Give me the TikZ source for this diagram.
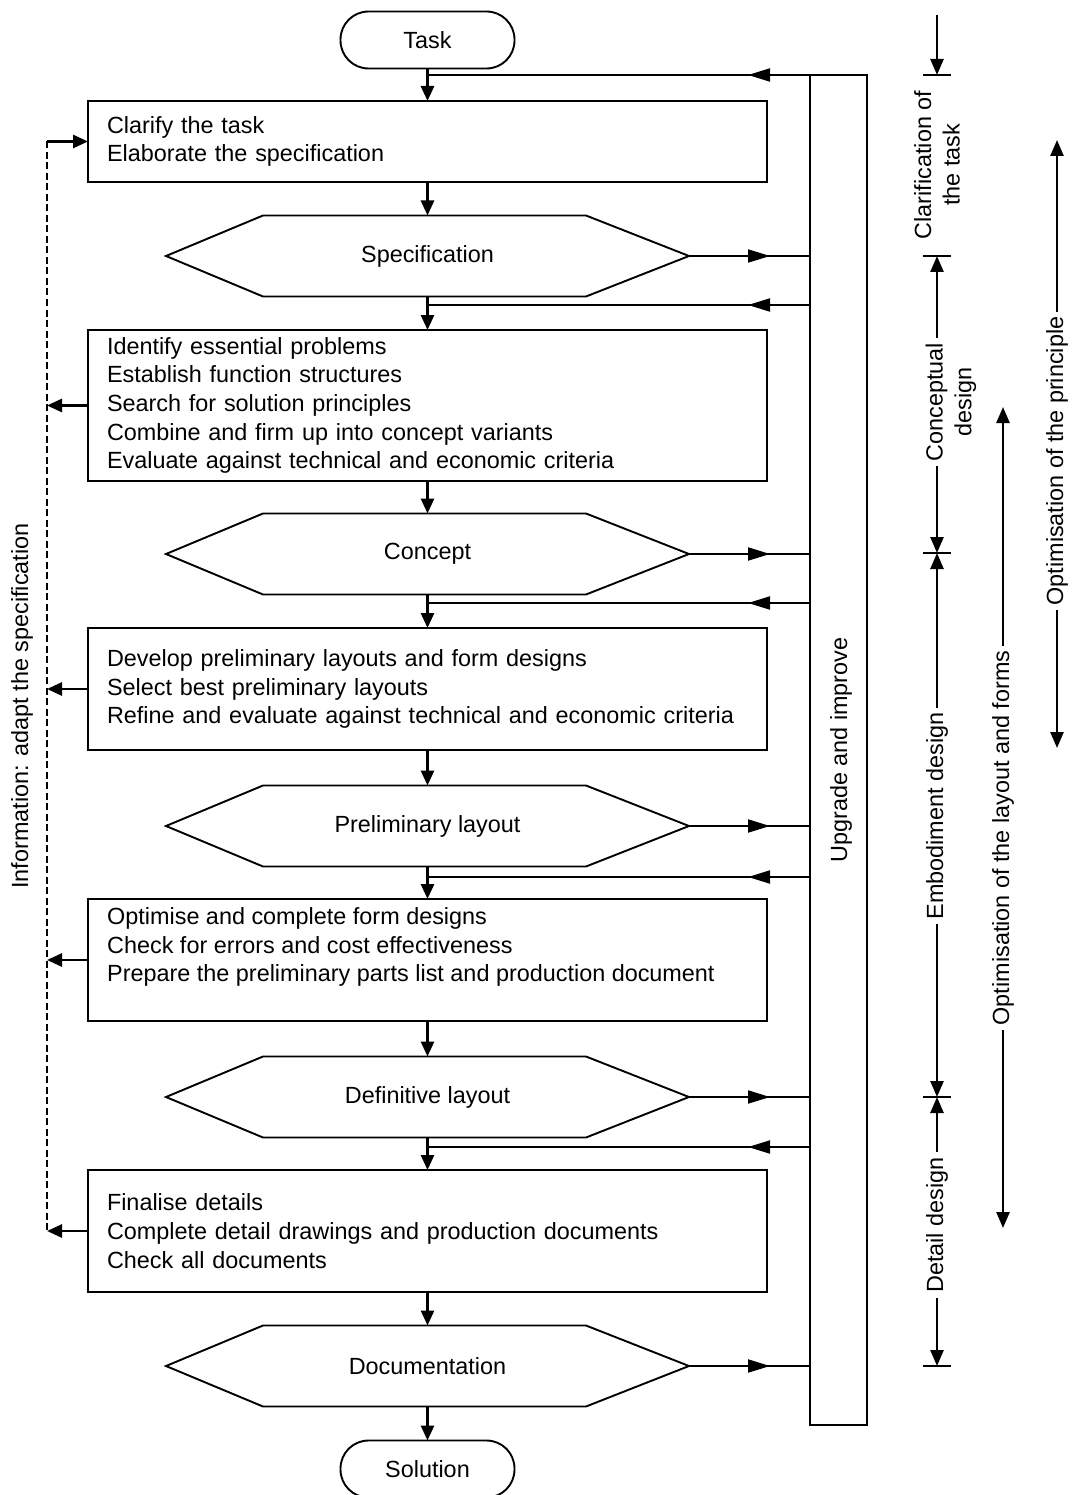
\documentclass[tikz,border=0pt]{standalone}
\usepackage{fontspec}
\setmainfont{Liberation Sans}
\usetikzlibrary{arrows.meta,calc,decorations.markings}
\newcommand\hexdraw[1]{\draw[ln] (#1.west) -- ($(#1.north west)+(97,0)$) -- ($(#1.north east)+(-103,0)$) -- (#1.east) -- ($(#1.south east)+(-103,0)$) -- ($(#1.south west)+(97,0)$) -- cycle;}
\begin{document}
\begin{tikzpicture}[x=1pt,y=-1pt,
  font=\fontsize{23.4}{28.7}\selectfont,
  ln/.style={line width=1.9pt},
  box/.style={draw, ln, minimum width=679, inner xsep=19pt, inner ysep=2pt, text width=641pt, align=left, outer sep=0},
  term/.style={draw, ln, rounded corners=28pt, minimum width=174, minimum height=57, outer sep=0},
  hexn/.style={minimum width=523, minimum height=81, inner sep=0, outer sep=0},
  flow/.style={line width=2.8pt, -{Triangle[length=15pt,width=13pt]}},
  ret/.style={ln, decoration={markings, mark=at position 62pt with {\arrow{Triangle[length=22pt,width=13pt]}}}, postaction=decorate},
  outl/.style={ln, decoration={markings, mark=at position 81pt with {\arrow{Triangle[length=22pt,width=13pt]}}}, postaction=decorate},
  brk/.style={line width=2.6pt},
  tip/.tip={Triangle[length=16pt,width=13pt]},
  vlab/.style={rotate=90, fill=white, inner sep=5pt, align=center}
]
\useasboundingbox (0,0) rectangle (1072,1495);

% main column
\node[term] (task) at (427.5,40) {Task};
\node[box, minimum height=81] (b1) at (427.5,141.5) {Clarify the task\\Elaborate the specification};
\node[hexn] (spec) at (427.5,256) {Specification};
\node[box, minimum height=151] (b2) at (427.5,405.5) {Identify essential problems\\Establish function structures\\Search for solution principles\\Combine and firm up into concept variants\\Evaluate against technical and economic criteria};
\node[hexn] (conc) at (427.5,554) {Concept};
\node[box, minimum height=122] (b3) at (427.5,689) {Develop preliminary layouts and form designs\\Select best preliminary layouts\\Refine and evaluate against technical and economic criteria};
\node[hexn] (prel) at (427.5,826) {Preliminary layout};
\node[box, minimum height=122] (b4) at (427.5,960) {};
\node[anchor=west, align=left, inner sep=0] (b4t) at (107,947) {Optimise and complete form designs\\Check for errors and cost effectiveness\\Prepare the preliminary parts list and production document};
\node[hexn] (defl) at (427.5,1097) {Definitive layout};
\node[box, minimum height=122] (b5) at (427.5,1231) {Finalise details\\Complete detail drawings and production documents\\Check all documents};
\node[hexn] (docs) at (427.5,1366) {Documentation};
\node[term] (sol) at (427.5,1469) {Solution};

\hexdraw{spec}
\hexdraw{conc}
\hexdraw{prel}
\hexdraw{defl}
\hexdraw{docs}

\draw[flow] (task) -- (b1);
\draw[flow] (b1) -- (spec);
\draw[flow] (spec) -- (b2);
\draw[flow] (b2) -- (conc);
\draw[flow] (conc) -- (b3);
\draw[flow] (b3) -- (prel);
\draw[flow] (prel) -- (b4);
\draw[flow] (b4) -- (defl);
\draw[flow] (defl) -- (b5);
\draw[flow] (b5) -- (docs);
\draw[flow] (docs) -- (sol);

% upgrade and improve loop
\node[draw, ln, minimum width=57, minimum height=1350, outer sep=0] (up) at (838.5,750) {};
\node[rotate=90] (uptext) at (841,750) {Upgrade and improve};
\coordinate (r0) at (427.5,75);
\coordinate (r1) at (427.5,305);
\coordinate (r2) at (427.5,603);
\coordinate (r3) at (427.5,877);
\coordinate (r4) at (427.5,1147);
\draw[ret] (up.north west) -- (r0);
\draw[ret] (up.west |- r1) -- (r1);
\draw[ret] (up.west |- r2) -- (r2);
\draw[ret] (up.west |- r3) -- (r3);
\draw[ret] (up.west |- r4) -- (r4);
\draw[outl] (spec.east) -- (spec.east -| up.west);
\draw[outl] (conc.east) -- (conc.east -| up.west);
\draw[outl] (prel.east) -- (prel.east -| up.west);
\draw[outl] (defl.east) -- (defl.east -| up.west);
\draw[outl] (docs.east) -- (docs.east -| up.west);

% information feedback
\coordinate (dtop) at (47,141.5);
\coordinate (dbot) at (47,1231);
\draw[line width=2.8pt, dash pattern=on 7pt off 3.5pt] (dtop) -- (dbot);
\draw[flow] (dtop) -- (b1.west);
\draw[flow] (b2.west) -- (b2.west -| dtop);
\draw[flow] (b3.west) -- (b3.west -| dtop);
\draw[flow] (b4.west) -- (b4.west -| dtop);
\draw[flow] (b5.west) -- (dbot);
\node[rotate=90] (info) at (22,706) {Information: adapt the specification};

% phases
\coordinate (ptop) at (937,15);
\coordinate (p0) at (937,75);
\coordinate (p1) at (937,256);
\coordinate (p2) at (937,553);
\coordinate (p3) at (937,1097);
\coordinate (p4) at (937,1366);
\foreach \p in {p0,p1,p2,p3,p4}
  \draw[ln] ($(\p)+(-14,0)$) -- ($(\p)+(14,0)$);
\draw[brk, -tip] (ptop) -- (p0);
\node[rotate=90, align=center] (clar) at (937,165) {Clarification of\\the task};
\draw[brk, tip-tip] (p1) -- (p2);
\node[vlab] (concd) at (951,402) {Conceptual\\design};
\draw[brk, tip-tip] (p2) -- (p3);
\node[vlab] (embd) at (937,816) {Embodiment design};
\draw[brk, tip-tip] (p3) -- (p4);
\node[vlab] (detd) at (937,1225) {Detail design};

% optimisation arrows
\coordinate (o1t) at (1057,140);
\coordinate (o1b) at (1057,748);
\draw[brk, tip-tip] (o1t) -- (o1b);
\node[vlab] (opt1) at (1057,461) {Optimisation of the principle};
\coordinate (o2t) at (1003,407);
\coordinate (o2b) at (1003,1228);
\draw[brk, tip-tip] (o2t) -- (o2b);
\node[vlab] (opt2) at (1003,838) {Optimisation of the layout and forms};
\end{tikzpicture}
\end{document}
